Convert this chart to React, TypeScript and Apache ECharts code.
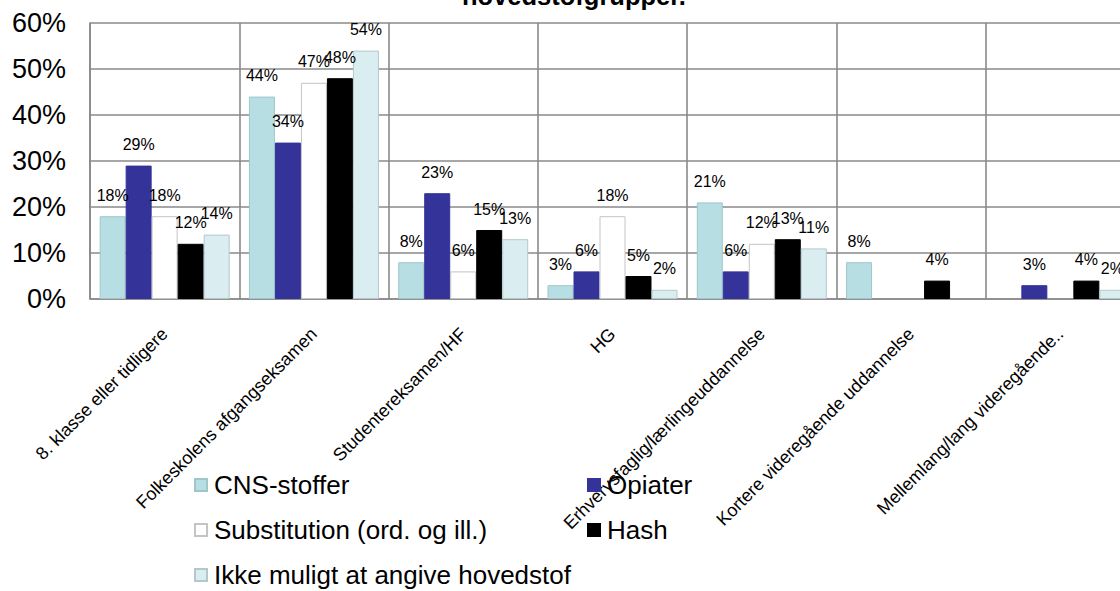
import React, { useEffect, useRef } from "react";
import * as echarts from "echarts";

// Educational level by main substance group (share of each group, %)
const categories = [
  "8. klasse eller tidligere",
  "Folkeskolens afgangseksamen",
  "Studentereksamen/HF",
  "HG",
  "Erhvervsfaglig/lærlingeuddannelse",
  "Kortere videregående uddannelse",
  "Mellemlang/lang videregående..",
];

const cnsStoffer = [18, 44, 8, 3, 21, 8, null];
const opiater = [29, 34, 23, 6, 6, null, 3];
const substitution = [18, 47, 6, 18, 12, null, null];
const hash = [12, 48, 15, 5, 13, 4, 4];
const ikkeMuligt = [14, 54, 13, 2, 11, null, 2];

const yTicks = { min: 0, max: 60, interval: 10 };

const FONT = "'Liberation Sans', Arial, sans-serif";
const GRID_COLOR = "#8a8a8a";

const seriesDefs = [
  { name: "CNS-stoffer", data: cnsStoffer, color: "#b7dee2", border: "#9ec7cc" },
  { name: "Opiater", data: opiater, color: "#333399", border: "#333399" },
  { name: "Substitution (ord. og ill.)", data: substitution, color: "#ffffff", border: "#c4c4c4" },
  { name: "Hash", data: hash, color: "#000000", border: "#000000" },
  { name: "Ikke muligt at angive hovedstof", data: ikkeMuligt, color: "#daedf0", border: "#b4c8cc" },
];

export default function App() {
  const ref = useRef<HTMLDivElement>(null);

  useEffect(() => {
    if (!ref.current) return;
    const chart = echarts.init(ref.current, null, { renderer: "svg" });

    const legendCommon = {
      orient: "vertical" as const,
      icon: "rect",
      itemWidth: 12,
      itemHeight: 12,
      itemGap: 19,
      padding: 0,
      selectedMode: false,
      textStyle: {
        fontFamily: FONT,
        fontSize: 26,
        lineHeight: 26,
        color: "#000",
        padding: [0, 0, 0, 2],
      },
    };

    chart.setOption({
      animation: false,
      backgroundColor: "#ffffff",
      title: {
        text: "hovedstofgrupper.",
        left: 462,
        top: -17,
        padding: 0,
        textStyle: {
          fontFamily: FONT,
          fontWeight: "bold",
          fontSize: 25.5,
          color: "#000",
        },
      },
      legend: [
        {
          ...legendCommon,
          left: 194,
          top: 472,
          data: [seriesDefs[0].name, seriesDefs[2].name, seriesDefs[4].name],
        },
        {
          ...legendCommon,
          left: 587,
          top: 472,
          data: [seriesDefs[1].name, seriesDefs[3].name],
        },
      ],
      grid: {
        left: 90,
        width: 1045,
        top: 23,
        height: 276,
        outerBoundsMode: "none",
        containLabel: false,
      },
      xAxis: {
        type: "category",
        data: categories,
        boundaryGap: true,
        axisLine: { show: true, lineStyle: { color: GRID_COLOR, width: 1.6 } },
        axisTick: { show: false },
        splitLine: {
          show: true,
          interval: 0,
          lineStyle: { color: GRID_COLOR, width: 1.6 },
        },
        axisLabel: {
          interval: 0,
          rotate: 45,
          margin: 32,
          fontFamily: FONT,
          fontSize: 18,
          color: "#000",
        },
      },
      yAxis: {
        type: "value",
        min: yTicks.min,
        max: yTicks.max,
        interval: yTicks.interval,
        axisLine: { show: true, lineStyle: { color: GRID_COLOR, width: 1.6 } },
        axisTick: { show: false },
        splitLine: { show: true, lineStyle: { color: GRID_COLOR, width: 1.6 } },
        axisLabel: {
          formatter: "{value}%",
          margin: 24,
          fontFamily: FONT,
          fontSize: 27,
          color: "#000",
        },
      },
      series: seriesDefs.map((s) => ({
        type: "bar",
        name: s.name,
        data: s.data,
        barWidth: 26,
        barGap: "0%",
        itemStyle: { color: s.color, borderColor: s.border, borderWidth: 1 },
        label: {
          show: true,
          position: "top",
          distance: 13,
          formatter: "{c}%",
          fontFamily: FONT,
          fontSize: 16,
          color: "#000",
        },
      })),
    });

    return () => chart.dispose();
  }, []);

  return (
    <div
      ref={ref}
      style={{ position: "absolute", left: 0, top: 0, width: 1120, height: 591 }}
    />
  );
}
